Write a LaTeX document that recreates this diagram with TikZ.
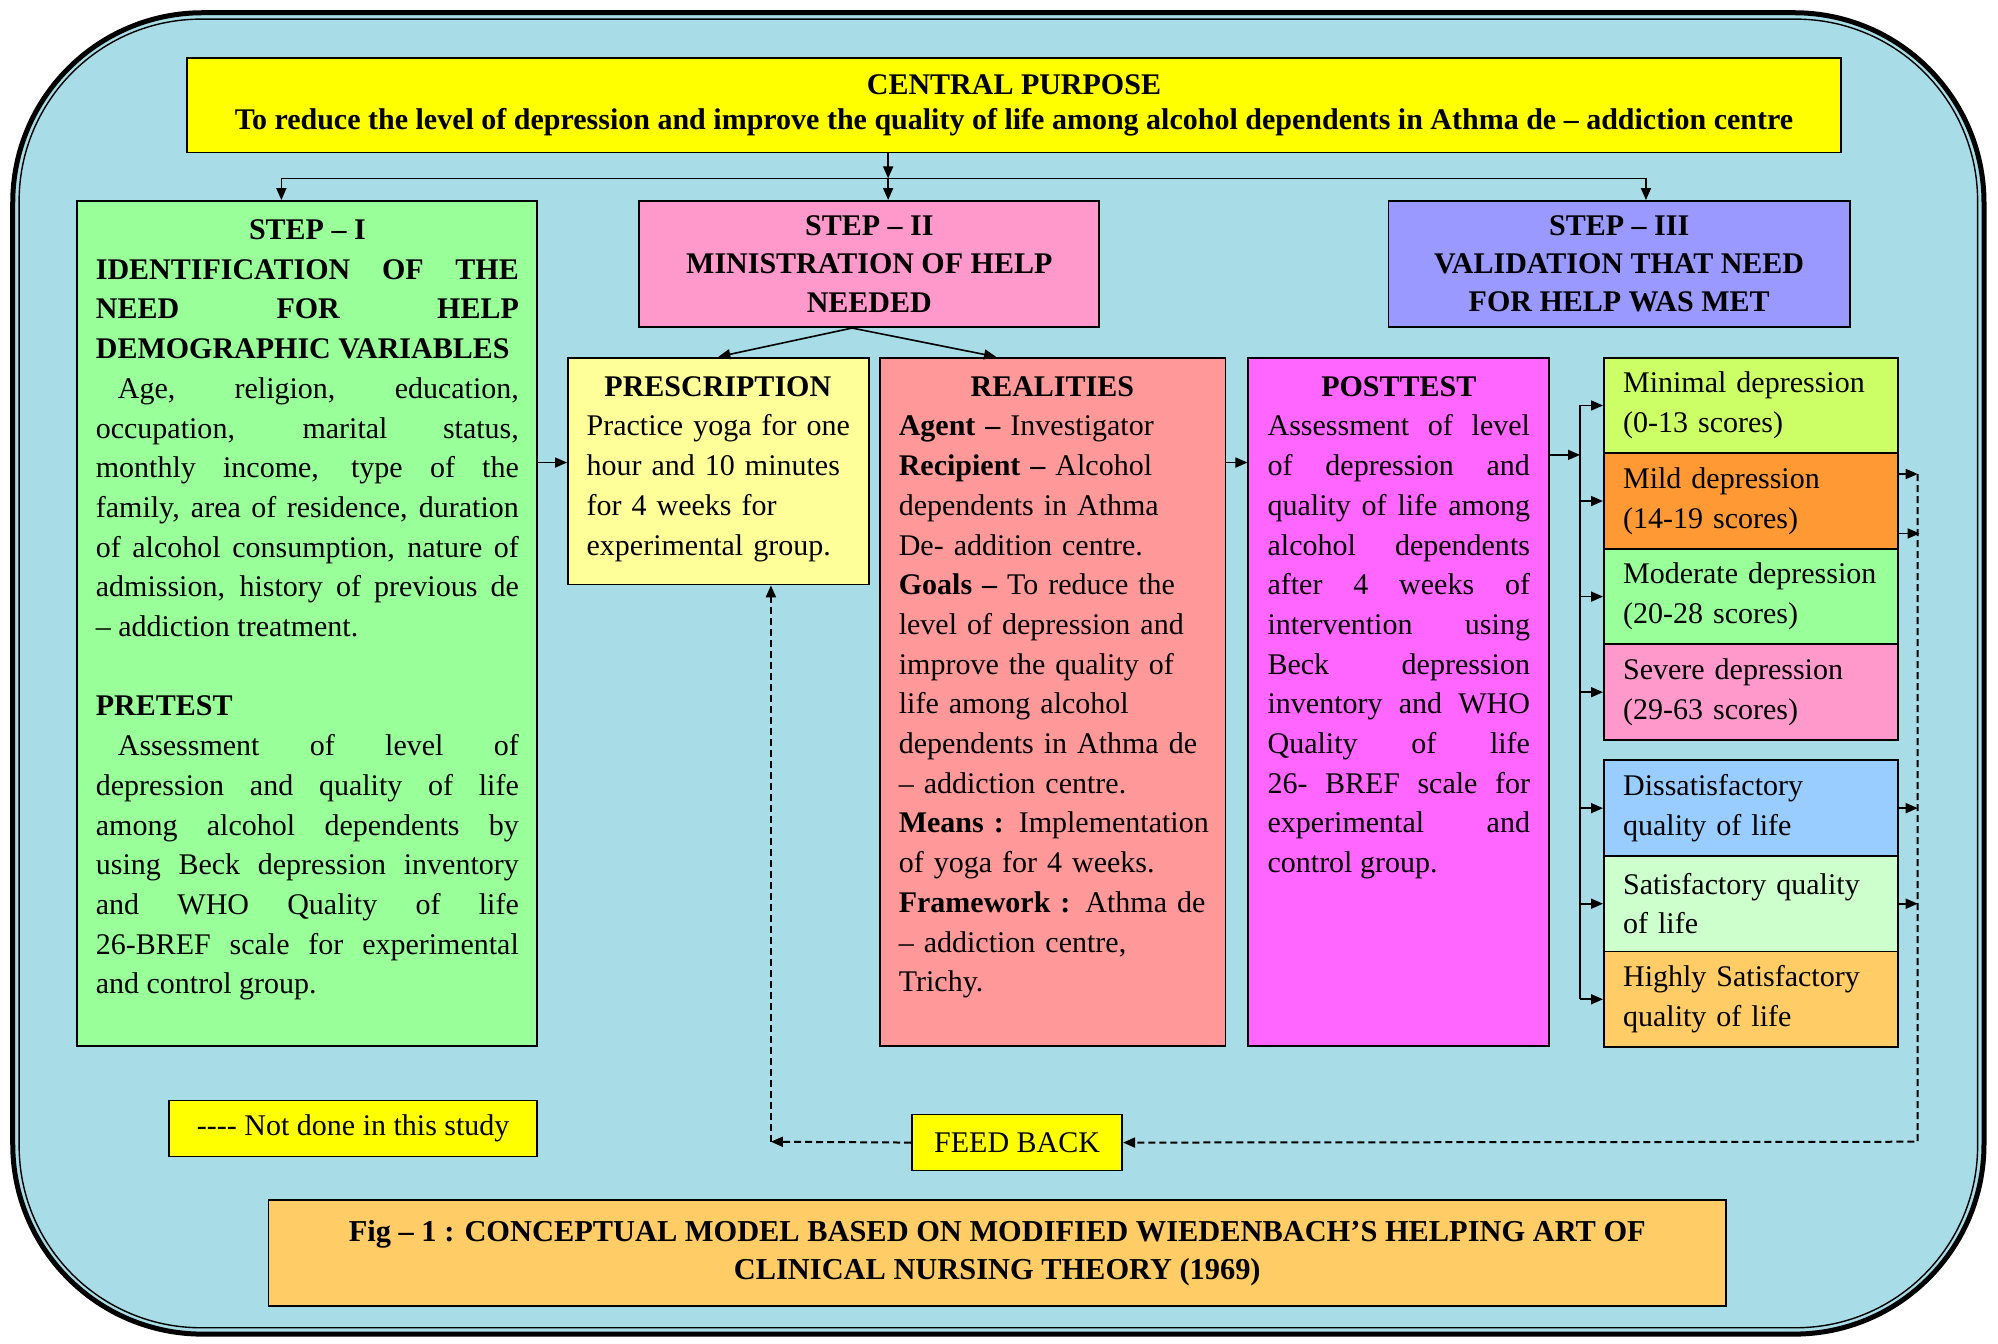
\documentclass[tikz,border=0pt]{standalone}
\usepackage{fontspec}
\setmainfont{Liberation Serif}
\usetikzlibrary{arrows.meta}
\definecolor{water}{RGB}{168, 220, 230}
\definecolor{purposeyellow}{RGB}{255, 255, 0}
\definecolor{stepgreen}{RGB}{153, 255, 153}
\definecolor{steppink}{RGB}{255, 153, 204}
\definecolor{stepblue}{RGB}{153, 153, 255}
\definecolor{paleyellow}{RGB}{255, 255, 153}
\definecolor{salmon}{RGB}{255, 153, 153}
\definecolor{orchid}{RGB}{255, 102, 255}
\definecolor{limegreen}{RGB}{204, 255, 102}
\definecolor{tangerine}{RGB}{255, 153, 51}
\definecolor{skyblue}{RGB}{153, 204, 255}
\definecolor{mint}{RGB}{204, 255, 204}
\definecolor{apricot}{RGB}{255, 204, 102}
\newcommand{\bodyfont}{\fontsize{15pt}{19.85pt}\selectfont}
\newcommand{\headfont}{\fontsize{15pt}{19.1pt}\selectfont\bfseries}
\tolerance=10000
\hyphenpenalty=10000
\hbadness=10000

\begin{document}
\begin{tikzpicture}[x=0.6371pt, y=-0.6371pt,
    box/.style={draw=black, line width=0.9pt, inner sep=0pt, anchor=north west},
    txt/.style={inner sep=0pt, anchor=north, font=\bodyfont},
    arr/.style={line width=0.8pt, -{Triangle[length=6pt,width=5pt]}},
    nd/.style={arr, line width=1pt, dash pattern=on 3.5pt off 2pt}]
    \useasboundingbox (0,0) rectangle (1568,1054);
    \fill[white] (0,0) rectangle (1568,1054);
    \draw[line width=2.5pt, fill=water, rounded corners=95pt] (10,10) rectangle (1557,1047);
    \draw[line width=0.7pt, rounded corners=91pt]             (15,15) rectangle (1552,1042);

    \node[box, fill=purposeyellow, minimum width=827pt,   minimum height=47.1pt, align=center, font={\fontsize{15pt}{17.8pt}\selectfont\bfseries}] (purpose) at (146,45)
        {CENTRAL PURPOSE\\To reduce the level of depression and improve the quality of life among alcohol dependents in Athma de – addiction centre};

    \node[box, fill=stepgreen,     minimum width=230pt,   minimum height=422.4pt] (stepI)   at (60,157)  {};
    \node[box, fill=steppink,      minimum width=230pt,   minimum height=63.1pt, align=center, font=\headfont] (stepII)  at (501,157)
        {STEP – II\\MINISTRATION OF HELP\\NEEDED};
    \node[box, fill=stepblue,      minimum width=230.6pt, minimum height=63.1pt, align=center, font=\headfont] (stepIII) at (1089,157)
        {STEP – III\\VALIDATION THAT NEED\\FOR HELP WAS MET};
    \node[box, fill=paleyellow,    minimum width=150.4pt, minimum height=113.4pt] (prescription) at (445,280) {};
    \node[box, fill=salmon,        minimum width=172.7pt, minimum height=344pt]   (realities)    at (690,280) {};
    \node[box, fill=orchid,        minimum width=150.4pt, minimum height=344pt]   (posttest)     at (979,280) {};

    \node[txt, text width=211.5pt, align=justify] (needtext) at ([yshift=-9.6pt]stepI.north) {%
        {\centering\bfseries STEP – I\par}
        {\bfseries IDENTIFICATION OF THE\linebreak NEED FOR HELP\linebreak DEMOGRAPHIC VARIABLES\par}
        \hspace*{11pt}Age, religion, education,\linebreak occupation, marital status,\linebreak monthly income, type of the\linebreak
        family, area of residence, duration\linebreak of alcohol consumption, nature of\linebreak admission, history of previous de\linebreak
        – addiction treatment.\par
        \vspace{19.85pt}
        {\bfseries PRETEST\par}
        \hspace*{11pt}Assessment of level of\linebreak depression and quality of life\linebreak among alcohol dependents by\linebreak
        using Beck depression inventory\linebreak and WHO Quality of life\linebreak 26-BREF scale for experimental\linebreak and control group.\par};
    \node[txt, anchor=north west, text width=138pt, align=left] (prescriptiontext) at ([xshift=9.6pt, yshift=-9.6pt]prescription.north west) {%
        \makebox[131.2pt]{\bfseries PRESCRIPTION}\\
        Practice yoga for one\\hour and 10 minutes\\for 4 weeks for\\experimental group.};
    \node[txt, anchor=north west, text width=160pt, align=left] (realitiestext) at ([xshift=9.6pt, yshift=-9.6pt]realities.north west) {%
        \makebox[153.5pt]{\bfseries REALITIES}\\
        \textbf{Agent –} Investigator\\\textbf{Recipient –} Alcohol\\dependents in Athma\\De- addition centre.\\
        \textbf{Goals –} To reduce the\\level of depression and\\improve the quality of\\life among alcohol\\
        dependents in Athma de\\– addiction centre.\\\textbf{Means :} Implementation\\of yoga for 4 weeks.\\
        \textbf{Framework :} Athma de\\– addiction centre,\\Trichy.};
    \node[txt, text width=131.2pt, align=justify] (posttesttext) at ([yshift=-9.6pt]posttest.north) {%
        {\centering\bfseries POSTTEST\par}
        Assessment of level\linebreak of depression and\linebreak quality of life among\linebreak alcohol dependents\linebreak
        after 4 weeks of\linebreak intervention using\linebreak Beck depression\linebreak inventory and WHO\linebreak
        Quality of life\linebreak 26- BREF scale for\linebreak experimental and\linebreak control group.\par};

    \node[box, fill=limegreen, minimum width=147.2pt, minimum height=47.8pt, text width=128pt, align=left, font=\bodyfont] (minimal)  at (1258,280) {Minimal depression\\(0-13 scores)};
    \node[box, fill=tangerine, minimum width=147.2pt, minimum height=47.8pt, text width=128pt, align=left, font=\bodyfont] (mild)     at (1258,355) {Mild depression\\(14-19 scores)};
    \node[box, fill=stepgreen, minimum width=147.2pt, minimum height=47.8pt, text width=128pt, align=left, font=\bodyfont] (moderate) at (1258,430) {Moderate depression\\(20-28 scores)};
    \node[box, fill=steppink,  minimum width=147.2pt, minimum height=47.8pt, text width=128pt, align=left, font=\bodyfont] (severe)   at (1258,505) {Severe depression\\(29-63 scores)};
    \node[box, fill=skyblue,   minimum width=147.2pt, minimum height=47.8pt, text width=128pt, align=left, font=\bodyfont] (dissat)   at (1258,596) {Dissatisfactory\\quality of life};
    \node[box, fill=mint,      minimum width=147.2pt, minimum height=47.8pt, text width=128pt, align=left, font=\bodyfont] (satisf)   at (1258,671) {Satisfactory quality\\of life};
    \node[box, fill=apricot,   minimum width=147.2pt, minimum height=47.8pt, text width=128pt, align=left, font=\bodyfont] (highsat)  at (1258,746) {Highly Satisfactory\\quality of life};

    \node[box, fill=purposeyellow, minimum width=184.1pt, minimum height=28pt,   font=\bodyfont] (legend)  at (132,863) {-\kern0pt-\kern0pt-\kern0pt- Not done in this study};
    \node[box, fill=purposeyellow, minimum width=105.1pt, minimum height=28pt,   font=\bodyfont] (feed)    at (715,874) {FEED BACK};
    \node[box, fill=apricot,       minimum width=728.8pt, minimum height=52.9pt, align=center, font={\fontsize{15.2pt}{19.1pt}\selectfont\bfseries}] (caption) at (210,941)
        {Fig – 1 : CONCEPTUAL MODEL BASED ON MODIFIED WIEDENBACH’S HELPING ART OF\\CLINICAL NURSING THEORY (1969)};

    \coordinate (split) at (697,140);
    \draw[arr] (purpose.south -| split) -- (split);
    \draw[arr] (split) -- (stepII.north -| split);
    \draw[arr] (split) -| ([xshift=-13pt]stepI.north);
    \draw[arr] (split) -| ([xshift=13.4pt]stepIII.north);

    \coordinate (fork) at ([xshift=-8.6pt]stepII.south);
    \draw[arr] (fork) -- (prescription.north);
    \draw[arr] (fork) -- ([xshift=-28.4pt]realities.north);

    \coordinate (row) at (0,363);
    \draw[arr] (stepI.east |- row)     -- (prescription.west |- row);
    \draw[arr] (realities.east |- row) -- (posttest.west |- row);

    \coordinate (bus) at (1240,357);
    \draw[arr] (posttest.east |- bus) -- (bus);
    \draw[line width=0.8pt] (bus |- minimal.west) -- (bus |- highsat.west);
    \draw[arr] (bus |- minimal.west)  -- (minimal.west);
    \draw[arr] (bus |- mild.west)     -- (mild.west);
    \draw[arr] (bus |- moderate.west) -- (moderate.west);
    \draw[arr] (bus |- severe.west)   -- (severe.west);
    \draw[arr] (bus |- dissat.west)   -- (dissat.west);
    \draw[arr] (bus |- satisf.west)   -- (satisf.west);
    \draw[arr] (bus |- highsat.west)  -- (highsat.west);

    \coordinate (rtop)    at (1505,372);
    \coordinate (rbot)    at (1505,896);
    \coordinate (fcorner) at (605,896);
    \draw[arr] (mild.east |- rtop) -- (rtop);
    \draw[arr] ([yshift=-16.2pt]mild.east) -- ++(16,0);
    \draw[arr] (dissat.east) -- (dissat.east -| rtop);
    \draw[arr] (satisf.east) -- (satisf.east -| rtop);
    \draw[nd] (rtop) -- (rbot) -- (feed.east);
    \draw[nd] (feed.west) -- (fcorner);
    \draw[nd] (fcorner) -- (fcorner |- prescription.south);
\end{tikzpicture}
\end{document}
